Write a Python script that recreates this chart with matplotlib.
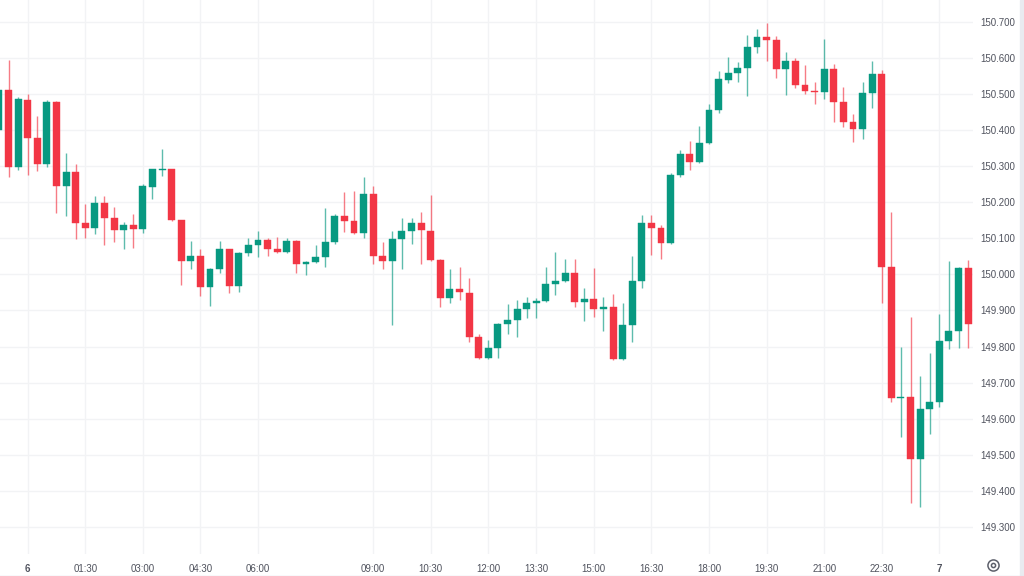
import matplotlib
matplotlib.use("Agg")
import matplotlib.pyplot as plt
from matplotlib.lines import Line2D
from matplotlib.patches import Rectangle
import numpy as np

# 15-minute bars, index 0 = start of day "6"
bar_idx = list(range(-3, 99))

opens = [150.400, 150.512, 150.298, 150.483, 150.378, 150.307, 150.478, 150.245, 150.284, 150.143,
         150.129, 150.198, 150.157, 150.123, 150.138, 150.125, 150.243, 150.289, 150.292, 150.150,
         150.038, 150.051, 149.966, 150.015, 150.069, 149.968, 150.060, 150.080, 150.095, 150.070,
         150.062, 150.092, 150.030, 150.034, 150.047, 150.090, 150.161, 150.148, 150.115, 150.222,
         150.051, 150.037, 150.097, 150.119, 150.143, 150.121, 150.040, 149.935, 149.959, 149.949,
         149.825, 149.767, 149.795, 149.862, 149.873, 149.903, 149.920, 149.926, 149.972, 149.982,
         150.004, 149.924, 149.931, 149.904, 149.910, 149.765, 149.860, 149.981, 150.142, 150.129,
         150.086, 150.275, 150.332, 150.312, 150.365, 150.455, 150.538, 150.557, 150.571, 150.630,
         150.658, 150.649, 150.568, 150.592, 150.524, 150.509, 150.504, 150.569, 150.478, 150.423,
         150.402, 150.503, 150.555, 150.021, 149.656, 149.659, 149.488, 149.626, 149.645, 149.815,
         149.844, 150.017]
highs = [150.520, 150.594, 150.490, 150.499, 150.438, 150.483, 150.480, 150.335, 150.307, 150.195,
         150.218, 150.218, 150.187, 150.146, 150.167, 150.250, 150.293, 150.346, 150.293, 150.150,
         150.092, 150.070, 150.017, 150.092, 150.070, 150.062, 150.102, 150.121, 150.100, 150.104,
         150.102, 150.094, 150.037, 150.081, 150.183, 150.166, 150.229, 150.231, 150.270, 150.245,
         150.090, 150.121, 150.157, 150.155, 150.172, 150.221, 150.042, 150.015, 150.021, 149.991,
         149.835, 149.818, 149.864, 149.918, 149.929, 149.938, 149.935, 150.019, 150.063, 150.042,
         150.042, 149.963, 150.017, 149.936, 149.945, 149.921, 150.051, 150.164, 150.164, 150.138,
         150.280, 150.344, 150.370, 150.411, 150.471, 150.563, 150.603, 150.589, 150.663, 150.681,
         150.695, 150.660, 150.615, 150.598, 150.580, 150.532, 150.652, 150.582, 150.520, 150.443,
         150.532, 150.591, 150.566, 150.173, 149.800, 149.883, 149.718, 149.783, 149.890, 150.038,
         150.019, 150.040]
lows = [150.390, 150.270, 150.290, 150.275, 150.286, 150.298, 150.171, 150.162, 150.097, 150.100,
        150.111, 150.080, 150.090, 150.070, 150.074, 150.115, 150.208, 150.272, 150.148, 149.970,
        150.014, 149.940, 149.913, 150.003, 149.947, 149.950, 150.051, 150.049, 150.052, 150.059,
        150.060, 150.005, 149.998, 150.032, 150.019, 150.085, 150.118, 150.113, 150.100, 150.028,
        150.015, 149.860, 150.016, 150.083, 150.028, 150.038, 149.910, 149.920, 149.929, 149.813,
        149.765, 149.765, 149.767, 149.834, 149.827, 149.878, 149.880, 149.924, 149.943, 149.980,
        149.909, 149.871, 149.883, 149.844, 149.763, 149.763, 149.813, 149.961, 150.053, 150.042,
        150.085, 150.270, 150.289, 150.308, 150.360, 150.446, 150.529, 150.532, 150.494, 150.614,
        150.592, 150.545, 150.497, 150.515, 150.499, 150.472, 150.485, 150.421, 150.409, 150.366,
        150.374, 150.460, 149.921, 149.647, 149.550, 149.367, 149.356, 149.557, 149.633, 149.792,
        149.797, 149.797]
closes = [150.512, 150.298, 150.485, 150.378, 150.307, 150.478, 150.245, 150.284, 150.143, 150.129,
          150.198, 150.157, 150.123, 150.138, 150.125, 150.245, 150.291, 150.292, 150.150, 150.038,
          150.051, 149.966, 150.015, 150.069, 149.968, 150.060, 150.080, 150.095, 150.070, 150.062,
          150.092, 150.030, 150.035, 150.047, 150.090, 150.161, 150.148, 150.115, 150.222, 150.051,
          150.037, 150.097, 150.119, 150.143, 150.123, 150.040, 149.935, 149.959, 149.950, 149.827,
          149.767, 149.795, 149.862, 149.873, 149.903, 149.920, 149.926, 149.972, 149.982, 150.004,
          149.924, 149.931, 149.904, 149.910, 149.765, 149.860, 149.981, 150.142, 150.129, 150.086,
          150.275, 150.332, 150.312, 150.365, 150.455, 150.540, 150.557, 150.571, 150.630, 150.658,
          150.649, 150.568, 150.592, 150.524, 150.509, 150.504, 150.569, 150.478, 150.423, 150.402,
          150.503, 150.555, 150.021, 149.657, 149.659, 149.488, 149.626, 149.645, 149.815, 149.844,
          150.017, 149.862]

tick_pos = [0, 6, 12, 18, 24, 36, 42, 48, 53, 59, 65, 71, 77, 83, 89, 95]
tick_labels = ["6", "01:30", "03:00", "04:30", "06:00", "09:00", "10:30", "12:00",
               "13:30", "15:00", "16:30", "18:00", "19:30", "21:00", "22:30", "7"]
price_ticks = [149.3, 149.4, 149.5, 149.6, 149.7, 149.8, 149.9, 150.0,
               150.1, 150.2, 150.3, 150.4, 150.5, 150.6, 150.7]

up_col = "#089981"
down_col = "#f23645"
grid_col = "#f2f3f5"
text_col = "#50535e"

x = np.array(bar_idx)
o = np.array(opens)
h = np.array(highs)
l = np.array(lows)
c = np.array(closes)
cols = np.where(c >= o, up_col, down_col)

W, H = 1024, 576
fig = plt.figure(figsize=(W / 100, H / 100), dpi=100)
fig.patch.set_facecolor("white")
ax = fig.add_axes([0, 1 - 554 / H, 973 / W, 554 / H])

ax.vlines(x, l, h, colors=cols, lw=1, alpha=0.65, zorder=2)
body_h = np.maximum(np.abs(c - o), 0.004)
ax.bar(x, body_h, bottom=np.minimum(o, c), width=0.72, color=cols,
       edgecolor=cols, linewidth=0.3, zorder=3)

ax.set_xlim(-2.887, 98.51)
ax.set_ylim(149.2252, 150.760)

ax.set_yticks(price_ticks)
ax.set_yticklabels([f"{p:.3f}" for p in price_ticks])
ax.yaxis.tick_right()
ax.set_xticks(tick_pos)
ax.set_xticklabels(tick_labels)
for lab in ax.get_xticklabels():
    if lab.get_text() in ("6", "7"):
        lab.set_fontweight("bold")

ax.tick_params(axis="both", length=0, labelsize=7, colors=text_col,
               labelfontfamily="Liberation Sans")
ax.tick_params(axis="y", pad=5)
ax.tick_params(axis="x", pad=7)
for lab in ax.get_yticklabels():
    lab.set_horizontalalignment("left")

ax.grid(True, color=grid_col, lw=1, zorder=0)
ax.set_axisbelow(True)
for s in ax.spines.values():
    s.set_visible(False)

# frame bits of the chart widget
fig.add_artist(Line2D([0, 1], [0.5 / H, 0.5 / H], color="#e0e3eb", lw=1,
                      transform=fig.transFigure))
fig.add_artist(Rectangle((1020 / W, 0), 4 / W, 1, color="#e9ebf0",
                         transform=fig.transFigure))
fig.add_artist(Line2D([993 / W], [1 - 565 / H], marker="o", markersize=8,
                      mfc="none", mec="#5d606b", mew=1.1, transform=fig.transFigure))
fig.add_artist(Line2D([993 / W], [1 - 565 / H], marker="o", markersize=3,
                      mfc="none", mec="#5d606b", mew=1.1, transform=fig.transFigure))

fig.savefig("out.png", dpi=100, facecolor="white")
